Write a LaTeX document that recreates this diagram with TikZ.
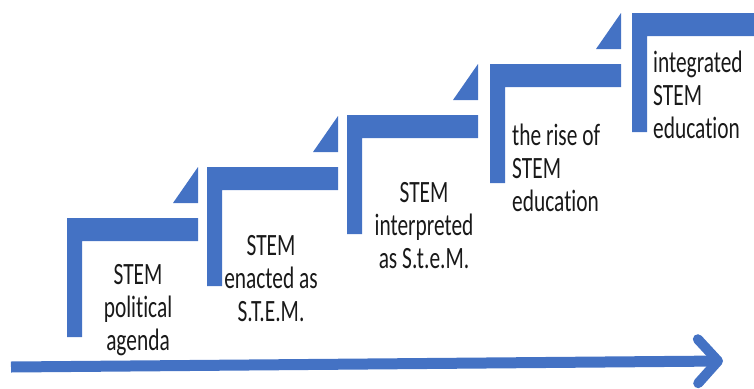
\documentclass[tikz,border=0pt]{standalone}
\usepackage{fontspec}
\setmainfont{Carlito}[FakeStretch=0.69, Ligatures=CommonOff]
\usetikzlibrary{arrows.meta}
\definecolor{stepblue}{HTML}{4472C4}

\begin{document}
\begin{tikzpicture}[x=1pt, y=-1pt,
  stepfill/.style={fill=stepblue, draw=none},
  steptext/.style={inner sep=0pt, font=\fontsize{31}{33}\selectfont, text=black!90}]
  \clip (0,0) rectangle (754,388);
  % the five steps: left edge and top of the bar
  \foreach \x/\y in {67/218, 207/167, 347/115, 490/64, 632/13} {
    \fill[stepfill] (\x,\y) -- ++(131,0) -- ++(0,23) -- ++(-116,0) -- ++(0,96) -- ++(-15,0) -- cycle;
    \fill[stepfill] (\x+131,\y-15) -- ++(0,-36) -- ++(-25,36) -- cycle;
  }
  % texts, placed by the baseline of their last line
  \node[steptext, align=center, anchor=base] (political) at (138,350) {STEM\\political\\agenda};
  \node[steptext, align=center, anchor=base] (enacted) at (271,321) {STEM\\enacted as\\S.T.E.M.};
  \node[steptext, align=center, anchor=base] (interpreted) at (424,268) {STEM\\interpreted\\as S.t.e.M.};
  \node[steptext, align=left, anchor=base west] (rise) at (512,211) {the rise of\\STEM\\education};
  \node[steptext, align=left, anchor=base west] (integrated) at (653,138) {integrated\\STEM\\education};
  % time arrow
  \coordinate (start) at (11,367);
  \coordinate (end) at (723,361);
  \draw[stepblue, line width=11pt, -{Straight Barb[length=20pt, width=44pt, line width=10pt, round]}] (start) -- (end);
\end{tikzpicture}
\end{document}
